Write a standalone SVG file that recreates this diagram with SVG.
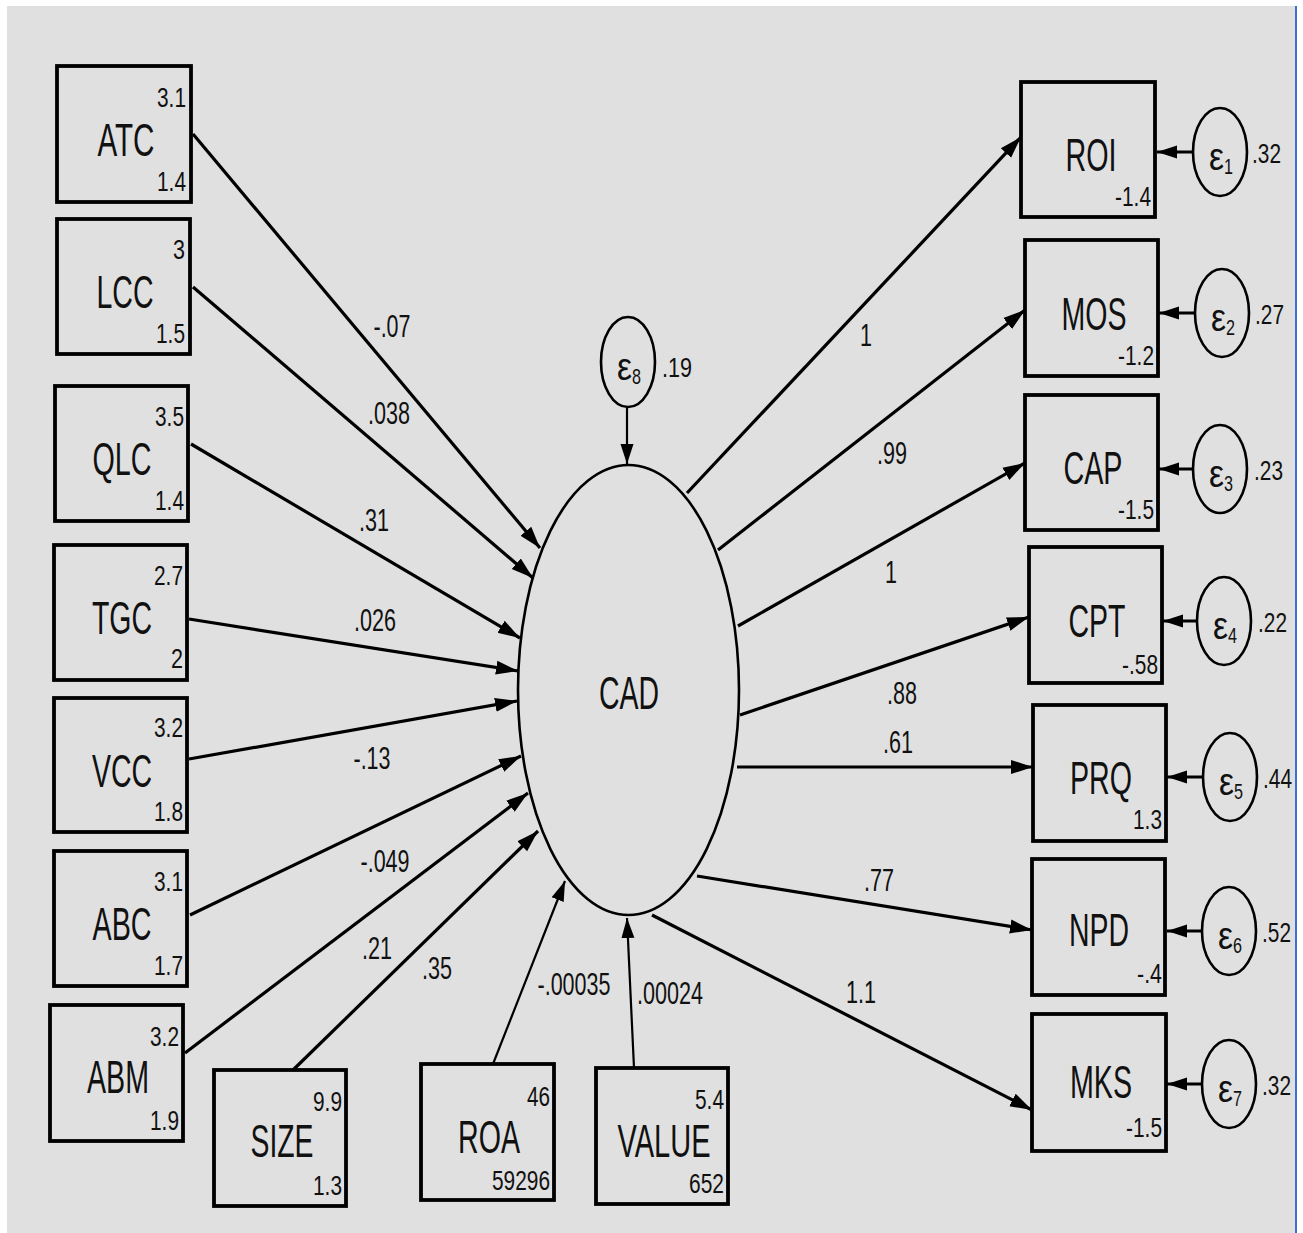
<svg xmlns="http://www.w3.org/2000/svg" width="1303" height="1233" viewBox="0 0 1303 1233">
<style>
.box{fill:none;stroke:#000;stroke-width:3.8}
.lat{fill:none;stroke:#000;stroke-width:2.6}
.e{stroke:#000;stroke-width:3.2;fill:none}
.thin{stroke:#000;stroke-width:2.2;fill:none}
text{font-family:"Liberation Sans",Arial,sans-serif;fill:#111}
.lbl{font-size:46px;text-anchor:middle}
.num{font-size:27px;text-anchor:end}
.el{font-size:31px;text-anchor:middle}
.cl{font-size:27px;text-anchor:start}
.eps{font-size:38px;text-anchor:end}
.sub{font-size:22px;text-anchor:start}
</style>
<defs>
<marker id="ah" markerUnits="userSpaceOnUse" markerWidth="24" markerHeight="16" refX="22" refY="8" orient="auto"><path d="M0,1 L22,8 L0,15 z" fill="#000"/></marker>
<marker id="ahs" markerUnits="userSpaceOnUse" markerWidth="22" markerHeight="16" refX="20" refY="8" orient="auto"><path d="M0,1.5 L20,8 L0,14.5 z" fill="#000"/></marker>
</defs>
<rect x="0" y="0" width="1303" height="1233" fill="#fff"/>
<rect x="7" y="6" width="1288" height="1227" fill="#e0e0e0"/>
<line x1="1296" y1="6" x2="1296" y2="1233" stroke="#3c6fd6" stroke-width="2"/>

<g id="connectors">
<line class="e" x1="193" y1="134" x2="540" y2="548" marker-end="url(#ah)"/>
<line class="e" x1="193" y1="287" x2="533" y2="578" marker-end="url(#ah)"/>
<line class="e" x1="191" y1="444" x2="520" y2="638" marker-end="url(#ah)"/>
<line class="e" x1="189" y1="619" x2="518" y2="671" marker-end="url(#ah)"/>
<line class="e" x1="189" y1="759" x2="517" y2="701" marker-end="url(#ah)"/>
<line class="e" x1="190" y1="915" x2="521" y2="756" marker-end="url(#ah)"/>
<line class="e" x1="185" y1="1053" x2="528" y2="793" marker-end="url(#ah)"/>
<line class="e" x1="293" y1="1070" x2="538" y2="831" marker-end="url(#ah)"/>
<line class="thin" x1="493" y1="1064" x2="565" y2="881" marker-end="url(#ahs)"/>
<line class="thin" x1="634" y1="1068" x2="627" y2="918" marker-end="url(#ahs)"/>
<line class="thin" x1="627" y1="408" x2="627" y2="464" marker-end="url(#ahs)"/>
<line class="e" x1="687" y1="493" x2="1021" y2="137" marker-end="url(#ah)"/>
<line class="e" x1="718" y1="550" x2="1025" y2="310" marker-end="url(#ah)"/>
<line class="e" x1="738" y1="626" x2="1025" y2="463" marker-end="url(#ah)"/>
<line class="e" x1="740" y1="715" x2="1029" y2="617" marker-end="url(#ah)"/>
<line class="e" x1="737" y1="767" x2="1033" y2="767" marker-end="url(#ah)"/>
<line class="e" x1="697" y1="876" x2="1032" y2="930" marker-end="url(#ah)"/>
<line class="e" x1="652" y1="915" x2="1032" y2="1110" marker-end="url(#ah)"/>
<line class="e" stroke-width="4" x1="1193" y1="152" x2="1157" y2="152" marker-end="url(#ahs)"/>
<line class="e" stroke-width="4" x1="1195" y1="313" x2="1159" y2="313" marker-end="url(#ahs)"/>
<line class="e" stroke-width="4" x1="1193" y1="469" x2="1159" y2="469" marker-end="url(#ahs)"/>
<line class="e" stroke-width="4" x1="1197" y1="621" x2="1163" y2="621" marker-end="url(#ahs)"/>
<line class="e" stroke-width="4" x1="1203" y1="777" x2="1167" y2="777" marker-end="url(#ahs)"/>
<line class="e" stroke-width="4" x1="1202" y1="931" x2="1167" y2="931" marker-end="url(#ahs)"/>
<line class="e" stroke-width="4" x1="1202" y1="1084" x2="1167" y2="1084" marker-end="url(#ahs)"/>
<text class="el" x="392" y="337" textLength="37" lengthAdjust="spacingAndGlyphs">-.07</text>
<text class="el" x="389" y="424" textLength="42" lengthAdjust="spacingAndGlyphs">.038</text>
<text class="el" x="374" y="531" textLength="30" lengthAdjust="spacingAndGlyphs">.31</text>
<text class="el" x="375" y="631" textLength="42" lengthAdjust="spacingAndGlyphs">.026</text>
<text class="el" x="372" y="769" textLength="37" lengthAdjust="spacingAndGlyphs">-.13</text>
<text class="el" x="385" y="872" textLength="49" lengthAdjust="spacingAndGlyphs">-.049</text>
<text class="el" x="377" y="959" textLength="30" lengthAdjust="spacingAndGlyphs">.21</text>
<text class="el" x="437" y="979" textLength="30" lengthAdjust="spacingAndGlyphs">.35</text>
<text class="el" x="574" y="995" textLength="73" lengthAdjust="spacingAndGlyphs">-.00035</text>
<text class="el" x="670" y="1004" textLength="66" lengthAdjust="spacingAndGlyphs">.00024</text>
<text class="el" x="866" y="346" textLength="12" lengthAdjust="spacingAndGlyphs">1</text>
<text class="el" x="892" y="464" textLength="30" lengthAdjust="spacingAndGlyphs">.99</text>
<text class="el" x="891" y="583" textLength="12" lengthAdjust="spacingAndGlyphs">1</text>
<text class="el" x="902" y="704" textLength="30" lengthAdjust="spacingAndGlyphs">.88</text>
<text class="el" x="898" y="753" textLength="30" lengthAdjust="spacingAndGlyphs">.61</text>
<text class="el" x="879" y="891" textLength="30" lengthAdjust="spacingAndGlyphs">.77</text>
<text class="el" x="861" y="1003" textLength="30" lengthAdjust="spacingAndGlyphs">1.1</text>
</g>

<g id="CAD">
<ellipse class="lat" cx="628.5" cy="690" rx="110.5" ry="225"/>
<text class="lbl" x="629" y="709" textLength="60" lengthAdjust="spacingAndGlyphs">CAD</text>
</g>
<g id="e8">
<ellipse class="lat" cx="628" cy="362" rx="27" ry="45"/>
<text class="eps" x="632" y="380" textLength="15" lengthAdjust="spacingAndGlyphs">ε</text>
<text class="sub" x="632" y="384" textLength="9" lengthAdjust="spacingAndGlyphs">8</text>
<text class="cl" x="662" y="377" textLength="30" lengthAdjust="spacingAndGlyphs">.19</text>
</g>

<g id="ATC">
<rect class="box" x="57" y="66" width="134" height="136"/>
<text class="lbl" x="126" y="156" textLength="57" lengthAdjust="spacingAndGlyphs">ATC</text>
<text class="num" x="186" y="107" textLength="29" lengthAdjust="spacingAndGlyphs">3.1</text>
<text class="num" x="186" y="191" textLength="29" lengthAdjust="spacingAndGlyphs">1.4</text>
</g>
<g id="LCC">
<rect class="box" x="57" y="219" width="133" height="135"/>
<text class="lbl" x="125" y="308" textLength="57" lengthAdjust="spacingAndGlyphs">LCC</text>
<text class="num" x="185" y="259" textLength="12" lengthAdjust="spacingAndGlyphs">3</text>
<text class="num" x="185" y="343" textLength="29" lengthAdjust="spacingAndGlyphs">1.5</text>
</g>
<g id="QLC">
<rect class="box" x="55" y="386" width="133" height="135"/>
<text class="lbl" x="122" y="475" textLength="59" lengthAdjust="spacingAndGlyphs">QLC</text>
<text class="num" x="184" y="426" textLength="29" lengthAdjust="spacingAndGlyphs">3.5</text>
<text class="num" x="184" y="510" textLength="29" lengthAdjust="spacingAndGlyphs">1.4</text>
</g>
<g id="TGC">
<rect class="box" x="54" y="545" width="133" height="135"/>
<text class="lbl" x="122" y="634" textLength="60" lengthAdjust="spacingAndGlyphs">TGC</text>
<text class="num" x="183" y="585" textLength="29" lengthAdjust="spacingAndGlyphs">2.7</text>
<text class="num" x="183" y="668" textLength="12" lengthAdjust="spacingAndGlyphs">2</text>
</g>
<g id="VCC">
<rect class="box" x="54" y="698" width="133" height="134"/>
<text class="lbl" x="122" y="787" textLength="60" lengthAdjust="spacingAndGlyphs">VCC</text>
<text class="num" x="183" y="737" textLength="29" lengthAdjust="spacingAndGlyphs">3.2</text>
<text class="num" x="183" y="821" textLength="29" lengthAdjust="spacingAndGlyphs">1.8</text>
</g>
<g id="ABC">
<rect class="box" x="54" y="851" width="133" height="135"/>
<text class="lbl" x="122" y="940" textLength="59" lengthAdjust="spacingAndGlyphs">ABC</text>
<text class="num" x="183" y="891" textLength="29" lengthAdjust="spacingAndGlyphs">3.1</text>
<text class="num" x="183" y="975" textLength="29" lengthAdjust="spacingAndGlyphs">1.7</text>
</g>
<g id="ABM">
<rect class="box" x="50" y="1005" width="133" height="136"/>
<text class="lbl" x="118" y="1093" textLength="62" lengthAdjust="spacingAndGlyphs">ABM</text>
<text class="num" x="179" y="1046" textLength="29" lengthAdjust="spacingAndGlyphs">3.2</text>
<text class="num" x="179" y="1130" textLength="29" lengthAdjust="spacingAndGlyphs">1.9</text>
</g>
<g id="SIZE">
<rect class="box" x="214" y="1070" width="132" height="136"/>
<text class="lbl" x="282" y="1157" textLength="63" lengthAdjust="spacingAndGlyphs">SIZE</text>
<text class="num" x="342" y="1111" textLength="29" lengthAdjust="spacingAndGlyphs">9.9</text>
<text class="num" x="342" y="1195" textLength="29" lengthAdjust="spacingAndGlyphs">1.3</text>
</g>
<g id="ROA">
<rect class="box" x="421" y="1064" width="133" height="136"/>
<text class="lbl" x="489" y="1153" textLength="62" lengthAdjust="spacingAndGlyphs">ROA</text>
<text class="num" x="550" y="1106" textLength="23" lengthAdjust="spacingAndGlyphs">46</text>
<text class="num" x="550" y="1190" textLength="58" lengthAdjust="spacingAndGlyphs">59296</text>
</g>
<g id="VALUE">
<rect class="box" x="596" y="1068" width="132" height="136"/>
<text class="lbl" x="664" y="1157" textLength="93" lengthAdjust="spacingAndGlyphs">VALUE</text>
<text class="num" x="724" y="1109" textLength="29" lengthAdjust="spacingAndGlyphs">5.4</text>
<text class="num" x="724" y="1193" textLength="35" lengthAdjust="spacingAndGlyphs">652</text>
</g>

<g id="ROI">
<rect class="box" x="1021" y="82" width="134" height="135"/>
<text class="lbl" x="1091" y="171" textLength="51" lengthAdjust="spacingAndGlyphs">ROI</text>
<text class="num" x="1151" y="206" textLength="36" lengthAdjust="spacingAndGlyphs">-1.4</text>
</g>
<g id="MOS">
<rect class="box" x="1025" y="240" width="133" height="136"/>
<text class="lbl" x="1094" y="330" textLength="65" lengthAdjust="spacingAndGlyphs">MOS</text>
<text class="num" x="1154" y="365" textLength="36" lengthAdjust="spacingAndGlyphs">-1.2</text>
</g>
<g id="CAP">
<rect class="box" x="1025" y="395" width="133" height="135"/>
<text class="lbl" x="1093" y="484" textLength="59" lengthAdjust="spacingAndGlyphs">CAP</text>
<text class="num" x="1154" y="519" textLength="36" lengthAdjust="spacingAndGlyphs">-1.5</text>
</g>
<g id="CPT">
<rect class="box" x="1029" y="547" width="133" height="136"/>
<text class="lbl" x="1097" y="637" textLength="57" lengthAdjust="spacingAndGlyphs">CPT</text>
<text class="num" x="1158" y="674" textLength="36" lengthAdjust="spacingAndGlyphs">-.58</text>
</g>
<g id="PRQ">
<rect class="box" x="1033" y="705" width="133" height="136"/>
<text class="lbl" x="1101" y="794" textLength="62" lengthAdjust="spacingAndGlyphs">PRQ</text>
<text class="num" x="1162" y="829" textLength="29" lengthAdjust="spacingAndGlyphs">1.3</text>
</g>
<g id="NPD">
<rect class="box" x="1032" y="859" width="133" height="136"/>
<text class="lbl" x="1099" y="946" textLength="60" lengthAdjust="spacingAndGlyphs">NPD</text>
<text class="num" x="1162" y="983" textLength="25" lengthAdjust="spacingAndGlyphs">-.4</text>
</g>
<g id="MKS">
<rect class="box" x="1032" y="1014" width="134" height="137"/>
<text class="lbl" x="1101" y="1098" textLength="62" lengthAdjust="spacingAndGlyphs">MKS</text>
<text class="num" x="1162" y="1137" textLength="36" lengthAdjust="spacingAndGlyphs">-1.5</text>
</g>

<g id="e1">
<ellipse class="lat" cx="1220" cy="152" rx="27" ry="44"/>
<text class="eps" x="1224" y="170" textLength="15" lengthAdjust="spacingAndGlyphs">ε</text>
<text class="sub" x="1224" y="174" textLength="9" lengthAdjust="spacingAndGlyphs">1</text>
<text class="cl" x="1252" y="163" textLength="29" lengthAdjust="spacingAndGlyphs">.32</text>
</g>
<g id="e2">
<ellipse class="lat" cx="1222" cy="313" rx="27" ry="44"/>
<text class="eps" x="1226" y="331" textLength="15" lengthAdjust="spacingAndGlyphs">ε</text>
<text class="sub" x="1226" y="335" textLength="9" lengthAdjust="spacingAndGlyphs">2</text>
<text class="cl" x="1255" y="324" textLength="29" lengthAdjust="spacingAndGlyphs">.27</text>
</g>
<g id="e3">
<ellipse class="lat" cx="1220" cy="469" rx="27" ry="44"/>
<text class="eps" x="1224" y="487" textLength="15" lengthAdjust="spacingAndGlyphs">ε</text>
<text class="sub" x="1224" y="491" textLength="9" lengthAdjust="spacingAndGlyphs">3</text>
<text class="cl" x="1254" y="480" textLength="29" lengthAdjust="spacingAndGlyphs">.23</text>
</g>
<g id="e4">
<ellipse class="lat" cx="1224" cy="621" rx="27" ry="44"/>
<text class="eps" x="1228" y="639" textLength="15" lengthAdjust="spacingAndGlyphs">ε</text>
<text class="sub" x="1228" y="643" textLength="9" lengthAdjust="spacingAndGlyphs">4</text>
<text class="cl" x="1258" y="632" textLength="29" lengthAdjust="spacingAndGlyphs">.22</text>
</g>
<g id="e5">
<ellipse class="lat" cx="1230" cy="777" rx="27" ry="44"/>
<text class="eps" x="1234" y="795" textLength="15" lengthAdjust="spacingAndGlyphs">ε</text>
<text class="sub" x="1234" y="799" textLength="9" lengthAdjust="spacingAndGlyphs">5</text>
<text class="cl" x="1263" y="788" textLength="29" lengthAdjust="spacingAndGlyphs">.44</text>
</g>
<g id="e6">
<ellipse class="lat" cx="1229" cy="931" rx="27" ry="44"/>
<text class="eps" x="1233" y="949" textLength="15" lengthAdjust="spacingAndGlyphs">ε</text>
<text class="sub" x="1233" y="953" textLength="9" lengthAdjust="spacingAndGlyphs">6</text>
<text class="cl" x="1262" y="942" textLength="29" lengthAdjust="spacingAndGlyphs">.52</text>
</g>
<g id="e7">
<ellipse class="lat" cx="1229" cy="1084" rx="27" ry="44"/>
<text class="eps" x="1233" y="1102" textLength="15" lengthAdjust="spacingAndGlyphs">ε</text>
<text class="sub" x="1233" y="1106" textLength="9" lengthAdjust="spacingAndGlyphs">7</text>
<text class="cl" x="1262" y="1095" textLength="29" lengthAdjust="spacingAndGlyphs">.32</text>
</g>
</svg>
